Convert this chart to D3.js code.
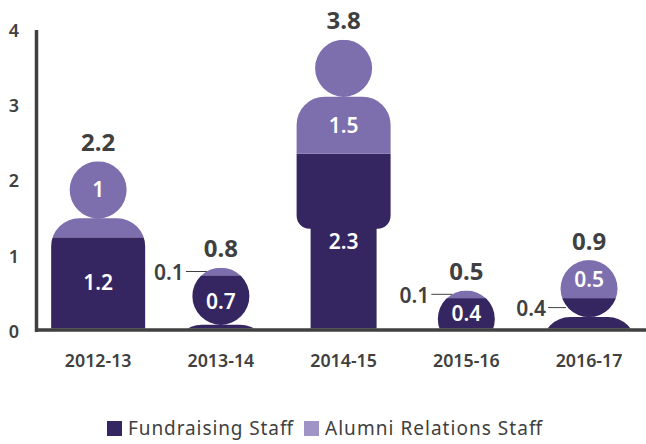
<!DOCTYPE html>
<html><head><meta charset="utf-8">
<script src="https://cdn.jsdelivr.net/npm/d3@7/dist/d3.min.js"></script>
<style>html,body{margin:0;padding:0;background:#fff}svg{display:block}text{font-family:"Noto Sans",sans-serif}</style>
</head><body><svg id="c" width="646" height="444"></svg>
<script>
const categories = ["2012-13","2013-14","2014-15","2015-16","2016-17"];
const fundraising = [1.2,0.7,2.3,0.4,0.4];
const alumni = [1,0.1,1.5,0.1,0.5];
const totals = [2.2,0.8,3.8,0.5,0.9];
const yTicks = [0,1,2,3,4];
const seriesNames = ["Fundraising Staff","Alumni Relations Staff"];

const DARK="#352661", LIGHT="#7d6eae", LEGEND_LIGHT="#a094c7", INK="#404040";
const svg=d3.select("#c");
const x=d3.scaleBand().domain(categories).range([36.8,650.4]);
const y=d3.scaleLinear().domain([0,4]).range([328.5,24.5]);
const yLabels=d3.scaleLinear().domain([0,4]).range([331,30]);
const cx=c=>x(c)+x.bandwidth()/2;

// person glyph, origin at the top centre of the head
const R=28.5, BW=47, LW=33, SH=28, HIP=13, BODY=132, LEG=400;
const head=`M${-R},${R}a${R},${R} 0 1,0 ${2*R},0a${R},${R} 0 1,0 ${-2*R},0Z`;
const neck=2*R;
const body=`M${-BW},${neck+SH}a${SH},${SH} 0 0,1 ${SH},${-SH}H${BW-SH}a${SH},${SH} 0 0,1 ${SH},${SH}`+
 `V${neck+BODY-HIP}a${HIP},${HIP} 0 0,1 ${-HIP},${HIP}H${LW}V${neck+LEG}H${-LW}V${neck+BODY}H${-BW+HIP}a${HIP},${HIP} 0 0,1 ${-HIP},${-HIP}Z`;

const defs=svg.append("defs");
categories.forEach((c,i)=>{
  defs.append("clipPath").attr("id","p"+i).append("path")
    .attr("d",head+body).attr("transform",`translate(${cx(c)},${y(totals[i])})`);
});
const rows=categories.map((c,i)=>({c,f:fundraising[i],a:alumni[i],i}));
const stacked=d3.stack().keys(["f","a"])(rows);
stacked.forEach((s,k)=>{
  svg.append("g").selectAll("g").data(s).join("g")
    .attr("clip-path",d=>`url(#p${d.data.i})`)
    .append("rect")
    .attr("x",d=>x(d.data.c)).attr("width",x.bandwidth())
    .attr("y",d=>y(d[1])).attr("height",d=>Math.min(y(d[0]),y(0))-y(d[1]))
    .attr("fill",k?LIGHT:DARK);
});

// axes
const yAxis=d3.axisLeft(yLabels).tickValues(yTicks).tickFormat(d3.format("d")).tickSize(0);
const ya=svg.append("g").attr("transform","translate(36,0)").call(yAxis);
ya.select(".domain").remove();
ya.selectAll("text").attr("x",-22).attr("dy","0.35em").attr("text-anchor","middle")
  .attr("font-size",18).attr("font-weight",600).attr("fill",INK).style("font-family",'"Noto Sans",sans-serif');
const xAxis=d3.axisBottom(x).tickSize(0);
const xa=svg.append("g").attr("transform",`translate(0,${y(0)})`).call(xAxis);
xa.select(".domain").remove();
xa.selectAll("text").attr("y",32.5).attr("dy","0.35em").attr("font-size",17.8).attr("font-weight",600).attr("fill",INK).style("font-family",'"Noto Sans",sans-serif');
svg.append("line").attr("x1",36.5).attr("x2",36.5).attr("y1",yLabels(4)).attr("y2",y(0)+3.5).attr("stroke",INK).attr("stroke-width",3.5);
svg.append("line").attr("x1",35).attr("x2",646).attr("y1",y(0)+1.5).attr("y2",y(0)+1.5).attr("stroke",INK).attr("stroke-width",3.5);

// totals
svg.append("g").selectAll("text").data(rows).join("text")
  .attr("x",d=>cx(d.c)).attr("y",d=>y(totals[d.i])-19).attr("dy","0.36em")
  .attr("text-anchor","middle").attr("font-size",24).attr("font-weight",700).attr("fill",INK)
  .text(d=>totals[d.i]);

// labels inside marks
function inner(cxv,yv,t){svg.append("text").attr("x",cxv).attr("y",yv).attr("dy","0.36em").attr("text-anchor","middle")
  .attr("font-size",21).attr("font-weight",600).attr("fill","#fff").text(t);}
const clampMid=(a,b)=>(Math.min(y(a),y(0))+y(b))/2;
rows.forEach(d=>{
  const c=cx(d.c), t=y(totals[d.i]);
  if(d.i!==4) inner(c,clampMid(0,d.f),d.f);
  if(d.i===0) inner(c,t+R,d.a);
  if(d.i===2) inner(c,(t+2*R+y(d.f))/2,d.a);
  if(d.i===4) inner(c,clampMid(d.f,totals[d.i]),d.a);
});
// callouts
function callout(i,v,yv,len){
  const c=cx(categories[i]), end=c-(i===4?23:14), start=end-len;
  svg.append("line").attr("x1",start).attr("x2",end).attr("y1",yv).attr("y2",yv).attr("stroke",INK).attr("stroke-width",1);
  svg.append("text").attr("x",start-2).attr("y",yv+1).attr("dy","0.36em").attr("text-anchor","end")
    .attr("font-size",21).attr("font-weight",600).attr("fill",INK).text(v);
}
callout(1,alumni[1],(y(totals[1])+y(fundraising[1]))/2,21);
callout(3,alumni[3],(y(totals[3])+y(fundraising[3]))/2,21);
callout(4,fundraising[4],(y(fundraising[4])+y(totals[4])+2*R)/2,18);

// legend
const leg=[{x:107,t:128,c:DARK,w:165},{x:304,t:325,c:LEGEND_LIGHT,w:217}];
leg.forEach((l,i)=>{
  svg.append("rect").attr("x",l.x).attr("y",421).attr("width",15).attr("height",15).attr("fill",l.c);
  svg.append("text").attr("x",l.t).attr("y",428.5).attr("dy","0.36em").attr("font-size",19).attr("fill",INK)
    .attr("textLength",l.w).attr("lengthAdjust","spacing").text(seriesNames[i]);
});
</script></body></html>
